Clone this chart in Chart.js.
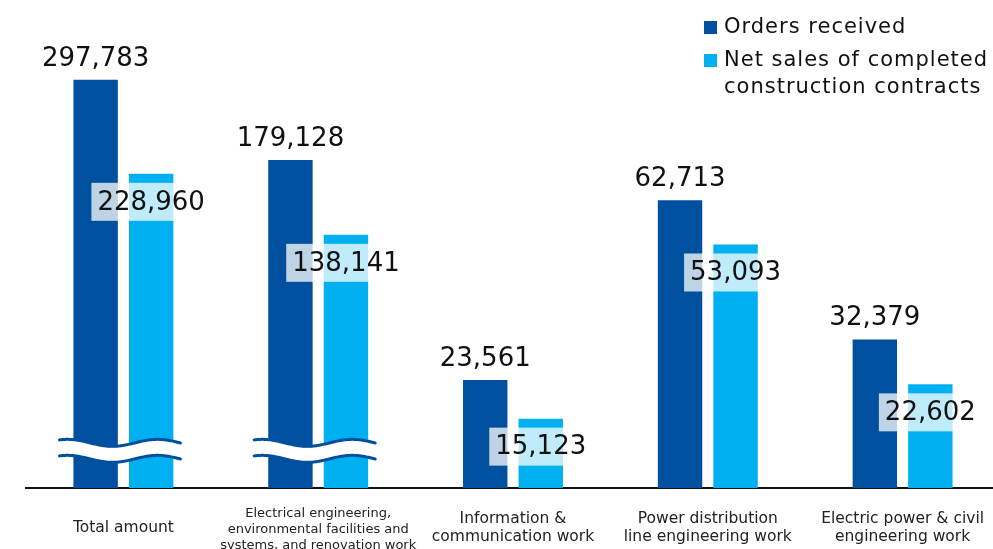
<!DOCTYPE html>
<html>
<head>
<meta charset="utf-8">
<script src="https://cdn.jsdelivr.net/npm/chart.js@4.4.1/dist/chart.umd.min.js"></script>
<style>
    html, body { margin: 0; padding: 0; background: #fff; overflow: hidden; }
    #wrap { position: relative; width: 1002px; height: 549px; }
    #legend {
        position: absolute; left: 704px; top: 13px;
        font-family: 'DejaVu Sans', sans-serif; font-size: 21px; letter-spacing: 1px;
        line-height: 27px; color: #111;
    }
    #legend .item { display: flex; align-items: flex-start; margin-bottom: 6px; }
    #legend .sw { width: 13px; height: 13px; margin-top: 8px; margin-right: 7px; flex: none; }
    #legend .txt { white-space: pre-line; }
</style>
</head>
<body>
<div id="wrap">
    <canvas id="ordersChart"></canvas>
    <div id="legend"></div>
</div>
<script>
// DATA
const categories = [
    ['Total amount'],
    ['Electrical engineering,', 'environmental facilities and', 'systems, and renovation work'],
    ['Information &', 'communication work'],
    ['Power distribution', 'line engineering work'],
    ['Electric power & civil', 'engineering work']
];
const seriesNames = ['Orders received', 'Net sales of completed\nconstruction contracts'];
const seriesColors = ['#0050A0', '#00B0F0'];
const ordersReceived = [297783, 179128, 23561, 62713, 32379];
const netSales = [228960, 138141, 15123, 53093, 22602];
// heights as drawn: the first two groups are cut by the axis break
const ordersBarHeight = [89000, 71500, 23561, 62713, 32379];
const netSalesBarHeight = [68500, 55200, 15123, 53093, 22602];
const brokenGroups = [0, 1];
const breakValue = 8100;
const yMax = 106400;

// Legend (html)
const legend = document.getElementById('legend');
seriesNames.forEach((name, i) => {
    const item = document.createElement('div');
    item.className = 'item';
    item.innerHTML = `<span class="sw" style="background:${seriesColors[i]}"></span><span class="txt"></span>`;
    item.querySelector('.txt').textContent = name;
    legend.appendChild(item);
});

// Wavy axis break + value labels
const labelsPlugin = {
    id: 'labelsPlugin',
    afterDatasetsDraw(chart) {
        const ctx = chart.ctx;
        const m0 = chart.getDatasetMeta(0).data;
        const m1 = chart.getDatasetMeta(1).data;
        const yc = chart.scales.y.getPixelForValue(breakValue);

        // break marks
        brokenGroups.forEach(i => {
            const left = m0[i].x - m0[i].width / 2 - 14;
            const right = m1[i].x + m1[i].width / 2 + 8;
            const wave = (off) => {
                ctx.beginPath();
                for (let x = left; x <= right; x += 1) {
                    const y = yc + off - 3.5 * Math.cos(2 * Math.PI * (x - left - 8) / 90);
                    if (x === left) ctx.moveTo(x, y); else ctx.lineTo(x, y);
                }
            };
            ctx.save();
            ctx.lineCap = 'round';
            wave(0);
            ctx.strokeStyle = '#fff';
            ctx.lineWidth = 14;
            ctx.stroke();
            ctx.strokeStyle = seriesColors[0];
            ctx.lineWidth = 3;
            wave(-8); ctx.stroke();
            wave(8); ctx.stroke();
            ctx.restore();
        });

        ctx.save();
        ctx.font = '26px "DejaVu Sans"';
        ctx.fillStyle = '#111';
        ctx.textAlign = 'center';

        // orders received: above bar
        m0.forEach((bar, i) => {
            ctx.textBaseline = 'alphabetic';
            ctx.fillText(ordersReceived[i].toLocaleString('en-US'), bar.x, bar.y - 14);
        });

        // net sales: inside bar with light box
        m1.forEach((bar, i) => {
            const txt = netSales[i].toLocaleString('en-US');
            const w = ctx.measureText(txt).width + 12;
            ctx.fillStyle = 'rgba(255,255,255,0.75)';
            ctx.fillRect(bar.x - w / 2, bar.y + 9, w, 38);
            ctx.fillStyle = '#111';
            ctx.textBaseline = 'middle';
            ctx.fillText(txt, bar.x, bar.y + 29);
        });
        ctx.restore();
    }
};

const ctx = document.getElementById('ordersChart').getContext('2d');
const ordersChart = new Chart(ctx, {
    type: 'bar',
    data: {
        labels: categories,
        datasets: [{
            label: seriesNames[0],
            data: ordersBarHeight,
            backgroundColor: seriesColors[0],
            categoryPercentage: 0.57,
            barPercentage: 0.8
        }, {
            label: seriesNames[1],
            data: netSalesBarHeight,
            backgroundColor: seriesColors[1],
            categoryPercentage: 0.57,
            barPercentage: 0.8
        }]
    },
    options: {
        responsive: true,
        maintainAspectRatio: false,
        animation: false,
        layout: { padding: { left: 26, right: 0, top: 0, bottom: 0 } },
        plugins: {
            legend: { display: false },
            tooltip: { enabled: false }
        },
        scales: {
            y: { display: false, min: 0, max: yMax },
            x: {
                grid: { display: false },
                border: { display: true, color: '#111', width: 2 },
                afterFit: (scale) => { scale.height = 61; },
                ticks: {
                    color: '#222',
                    padding: 18,
                    crossAlign: 'center',
                    maxRotation: 0,
                    autoSkip: false,
                    font: (c) => ({
                        family: 'DejaVu Sans',
                        size: c.index === 1 ? 13 : 15.5
                    })
                }
            }
        }
    },
    plugins: [labelsPlugin]
});
</script>
</body>
</html>
